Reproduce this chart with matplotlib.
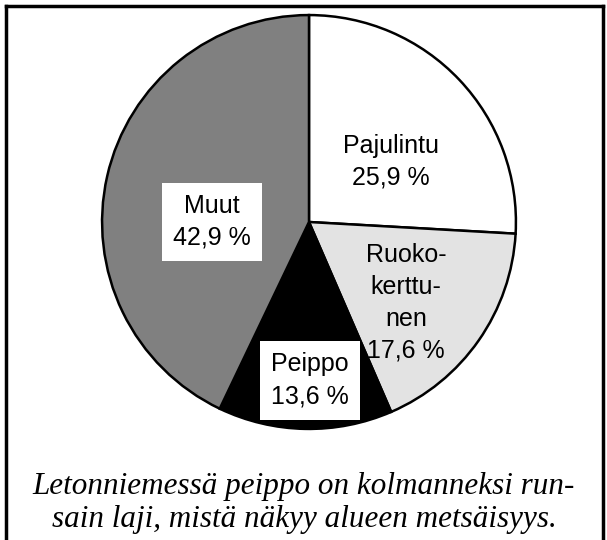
import matplotlib
matplotlib.use("Agg")
import matplotlib.pyplot as plt
import numpy as np
from matplotlib.lines import Line2D

labels = ["Pajulintu", "Ruoko-\nkerttu-\nnen", "Peippo", "Muut"]
values = [25.9, 17.6, 13.6, 42.9]
colors = ["#ffffff", "#e3e3e3", "#000000", "#808080"]
caption = "Letonniemessä peippo on kolmanneksi run-\nsain laji, mistä näkyy alueen metsäisyys."

W, H = 607, 540
fig = plt.figure(figsize=(W / 100, H / 100), dpi=100)

cx, cy, R = 309, 222, 209
ax = fig.add_axes([(cx - R) / W, (H - cy - R) / H, 2 * R / W, 2 * R / H])
wedges, _ = ax.pie(values, colors=colors, startangle=90, counterclock=False,
                   wedgeprops=dict(edgecolor="black", linewidth=1.8))
ax.set_xlim(-1.01, 1.01)
ax.set_ylim(-1.01, 1.01)
ax.set_aspect("equal")
ax.axis("off")

# label placement (x, y in radius units) per slice
place = [(0.395, 0.29), (0.47, -0.39), (0.005, -0.765), (-0.47, 0.0)]
boxed = [False, False, True, True]
for lab, v, (x, y), b in zip(labels, values, place, boxed):
    txt = f"{lab}\n{str(v).replace('.', ',')} %"
    kw = {}
    if b:
        kw["bbox"] = dict(boxstyle="square,pad=0.45", fc="white", ec="none")
    ax.text(x, y, txt, ha="center", va="center", fontsize=18,
            family="Liberation Sans", linespacing=1.42, **kw)

fig.text(304 / W, 1 - 503 / H, caption, ha="center", va="center",
         fontsize=22.4, family="Liberation Serif", style="italic", linespacing=1.22)

# frame (top, left, right)
lw = 2.5
x0, x1, y0 = 5.5 / W, 1 - 4.5 / W, 1 - 5.5 / H
fig.add_artist(Line2D([x0, x1], [y0, y0], color="black", lw=lw, transform=fig.transFigure))
fig.add_artist(Line2D([x0, x0], [y0, -0.05], color="black", lw=lw, transform=fig.transFigure))
fig.add_artist(Line2D([x1, x1], [y0, -0.05], color="black", lw=lw, transform=fig.transFigure))

fig.savefig("out.png", dpi=100)
